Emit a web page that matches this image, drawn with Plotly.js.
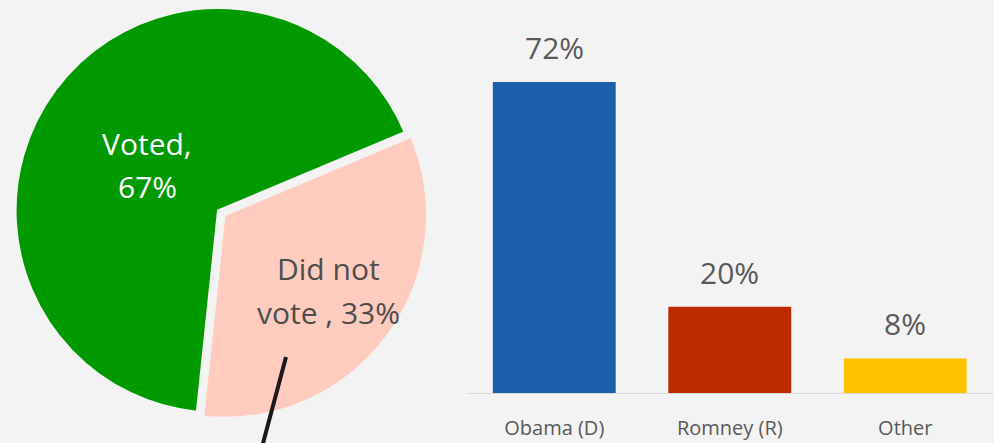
<!DOCTYPE html>
<html>
<head>
<meta charset="utf-8">
<script src="https://cdn.plot.ly/plotly-3.0.1.min.js"></script>
<style>html,body{margin:0;padding:0;background:#f3f3f3;}#chart{width:994px;height:443px;}</style>
</head>
<body>
<div id="chart"></div>
<script>
// Pie data
const pieLabels = ["Voted", "Did not vote "];
const pieValues = [67, 33];
const pieColors = ["#009a00", "#ffcbbf"];
const pieLines = [["Voted,", "67%"], ["Did not", "vote , 33%"]];
const pieTextColors = ["#ffffff", "#4d4d4d"];
// Bar data
const barCategories = ["Obama (D)", "Romney (R)", "Other"];
const barValues = [72, 20, 8];
const barColors = ["#1b5eaa", "#bd2a00", "#ffc000"];

const W = 994, H = 443;
const px = x => x / W;
const py = y => 1 - y / H;

const pieTrace = {
  type: "pie",
  labels: pieLabels,
  values: pieValues,
  sort: false,
  direction: "clockwise",
  rotation: 186,
  pull: [0, 0.04],
  marker: { colors: pieColors, line: { color: "#f3f3f3", width: 2 } },
  textinfo: "none",
  hoverinfo: "label+percent",
  showlegend: false,
  domain: { x: [px(7), px(429)], y: [py(421), 1] }
};

const barTrace = {
  type: "bar",
  x: barCategories,
  y: barValues,
  marker: { color: barColors },
  xaxis: "x",
  yaxis: "y",
  showlegend: false,
  hoverinfo: "x+y"
};

// Pie label positions (pixel centres of each text line)
const pieLinePos = [[[147, 143], [147, 186]], [[328, 268], [328, 312]]];
const annotations = [];
pieLines.forEach((lines, i) => {
  lines.forEach((t, j) => {
    annotations.push({
      xref: "paper", yref: "paper",
      x: px(pieLinePos[i][j][0]), y: py(pieLinePos[i][j][1]),
      xanchor: "center", yanchor: "middle",
      text: t, showarrow: false,
      font: { family: "Open Sans, sans-serif", size: 30, color: pieTextColors[i] }
    });
  });
});
barCategories.forEach((c, i) => {
  annotations.push({
    xref: "x", yref: "y", x: c, y: barValues[i],
    xanchor: "center", yanchor: "bottom", yshift: 12,
    text: barValues[i] + "%", showarrow: false,
    font: { family: "Open Sans, sans-serif", size: 30, color: "#595959" }
  });
});

const layout = {
  width: W, height: H,
  margin: { l: 0, r: 0, t: 0, b: 0 },
  paper_bgcolor: "#f3f3f3",
  plot_bgcolor: "#f3f3f3",
  bargap: 0.3,
  xaxis: {
    domain: [px(466.5), px(993)],
    showline: true, linecolor: "#d9d9d9", linewidth: 1,
    showgrid: false, zeroline: false,
    ticks: "", ticklabelstandoff: 17,
    tickfont: { family: "Open Sans, sans-serif", size: 20, color: "#595959" },
    fixedrange: true
  },
  yaxis: {
    domain: [py(393), 1],
    range: [0, 91],
    visible: false, showgrid: false, zeroline: false,
    fixedrange: true
  },
  annotations: annotations,
  shapes: [{
    type: "line", xref: "paper", yref: "paper",
    x0: px(286), y0: py(357), x1: px(258), y1: py(462),
    line: { color: "#1a1a1a", width: 4 }
  }]
};

Plotly.newPlot("chart", [pieTrace, barTrace], layout, { displayModeBar: false });
</script>
</body>
</html>
